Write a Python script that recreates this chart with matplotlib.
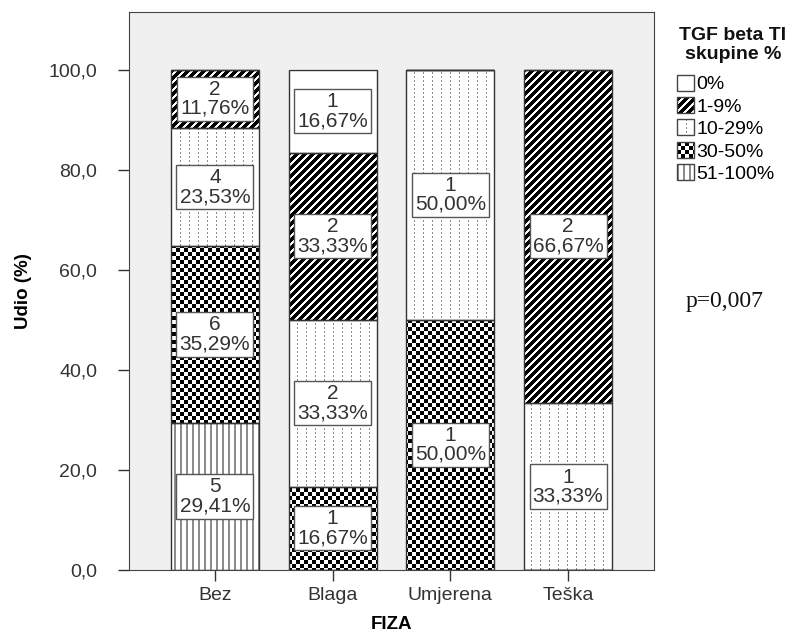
import numpy as np
import matplotlib
matplotlib.use('Agg')
import matplotlib.pyplot as plt
from matplotlib.patches import Patch, Rectangle
from matplotlib.legend_handler import HandlerBase
from matplotlib.ticker import FuncFormatter

plt.rcParams['font.family'] = ['Liberation Sans', 'DejaVu Sans']

# Data (counts per FIZA group)
categories = ['Bez', 'Blaga', 'Umjerena', 'Teška']
n_51_100 = [5, 0, 0, 0]
n_30_50 = [6, 1, 1, 0]
n_10_29 = [4, 2, 1, 1]
n_1_9 = [2, 2, 0, 2]
n_0 = [0, 1, 0, 0]

# stacking order bottom -> top, with the texture used for each group
stack = [('51-100%', n_51_100, 'vlines'),
         ('30-50%', n_30_50, 'checker'),
         ('10-29%', n_10_29, 'dots'),
         ('1-9%', n_1_9, 'diag'),
         ('0%', n_0, 'blank')]
legend_order = ['0%', '1-9%', '10-29%', '30-50%', '51-100%']

totals = np.sum([s[1] for s in stack], axis=0)


def texture(name, rows, cols):
    # pixel pattern similar to SPSS fills
    img = np.ones(rows.shape + (3,))
    if name == 'diag':
        img[(rows + cols) % 8 < 5] = 0.0
    elif name == 'dots':
        img[(cols % 9 == 0) & (rows % 4 < 2)] = 0.55
    elif name == 'checker':
        img[((rows // 4) + (cols // 4)) % 2 == 0] = 0.0
    elif name == 'vlines':
        img[cols % 6 < 2] = 0.55
    return img


class TextureHandler(HandlerBase):
    def __init__(self, name):
        super().__init__()
        self.name = name

    def create_artists(self, legend, orig_handle, xdescent, ydescent,
                       width, height, fontsize, trans):
        px = 72.0 / legend.figure.dpi
        n = int(round(height / px))
        m = int(round(width / px))
        rr, cc = np.mgrid[0:n, 0:m]
        img = texture(self.name, rr, cc)
        arts = []
        for r in range(n):
            for c in range(m):
                if img[r, c, 0] < 1:
                    arts.append(Rectangle((-xdescent + c * px, -ydescent + (n - 1 - r) * px),
                                          px, px, facecolor=tuple(img[r, c]), edgecolor='none',
                                          antialiased=False, transform=trans))
        arts.append(Rectangle((-xdescent, -ydescent), m * px, n * px, fill=False,
                              edgecolor='#444444', lw=1, transform=trans))
        return arts


W, H = 795, 637
fig = plt.figure(figsize=(W / 100, H / 100), dpi=100)
ax = fig.add_axes([129 / W, 1 - 570 / H, (654 - 129) / W, (570 - 12) / H])
ax.set_facecolor('#f0f0f0')
ax.set_xlim(-0.73, 3.73)
ax.set_ylim(0, 111.5)
ax.set_autoscale_on(False)

x = np.arange(len(categories))
bottom = np.zeros(len(categories))
handles = {}
for label, counts, tex in stack:
    pct = np.array(counts) / totals * 100
    bars = ax.bar(x, pct, 0.75, bottom=bottom, facecolor='none',
                  edgecolor='#333333', lw=1, zorder=2)
    for i, rect in enumerate(bars):
        if counts[i] == 0:
            continue
        bb = rect.get_window_extent()
        x0, x1 = int(round(bb.x0)), int(round(bb.x1))
        y0, y1 = int(round(bb.y0)), int(round(bb.y1))
        rr, cc = np.mgrid[H - y1:H - y0, x0:x1]
        img = texture(tex, rr, cc)
        inv = ax.transData.inverted()
        (dx0, dy0), (dx1, dy1) = inv.transform([(x0, y0), (x1, y1)])
        ax.imshow(img, extent=(dx0, dx1, dy0, dy1), interpolation='nearest',
                  aspect='auto', zorder=1)
        txt = f"{counts[i]}\n{pct[i]:.2f}%".replace('.', ',')
        ax.text(x[i], bottom[i] + pct[i] / 2, txt, ha='center', va='center',
                fontsize=15, color='#333333', linespacing=1.0, zorder=3,
                bbox=dict(boxstyle='square,pad=0.15', fc='white', ec='#555555', lw=1))
    handles[label] = (Patch(label=label), tex)
    bottom += pct

ax.set_xlim(-0.73, 3.73)
ax.set_ylim(0, 111.5)
ax.set_xticks(x)
ax.set_xticklabels(categories)
ax.set_yticks(np.arange(0, 101, 20))
ax.yaxis.set_major_formatter(FuncFormatter(lambda v, p: f"{v:.1f}".replace('.', ',')))
ax.tick_params(direction='out', length=8, width=1, color='#333333',
               labelsize=14, labelcolor='#333333')
ax.tick_params(axis='y', pad=15)
ax.tick_params(axis='x', pad=4)
for s in ax.spines.values():
    s.set_color('#444444')
ax.set_xlabel('FIZA', fontsize=13.5, fontweight='bold', labelpad=9)
ax.set_ylabel('Udio (%)', fontsize=13.5, fontweight='bold', labelpad=12)

hs = [handles[k][0] for k in legend_order]
hmap = {handles[k][0]: TextureHandler(handles[k][1]) for k in legend_order}
ax.legend(handles=hs, labels=legend_order, handler_map=hmap, loc='upper left',
          bbox_to_anchor=(677 / W, 1 - 75 / H), bbox_transform=fig.transFigure,
          frameon=False, fontsize=14, borderpad=0, borderaxespad=0,
          handlelength=0.85, handleheight=0.85, handletextpad=0.15,
          labelspacing=0.2)
fig.text(733 / W, 1 - 45 / H, 'TGF beta TI\nskupine %', ha='center', va='center',
         fontsize=14, fontweight='bold', linespacing=1.1, color='#111111')
fig.text(725 / W, 1 - 302 / H, 'p=0,007', ha='center', va='center',
         fontsize=17, family=['Liberation Serif', 'DejaVu Serif'], color='#111111')

fig.savefig('out.png', dpi=100)
